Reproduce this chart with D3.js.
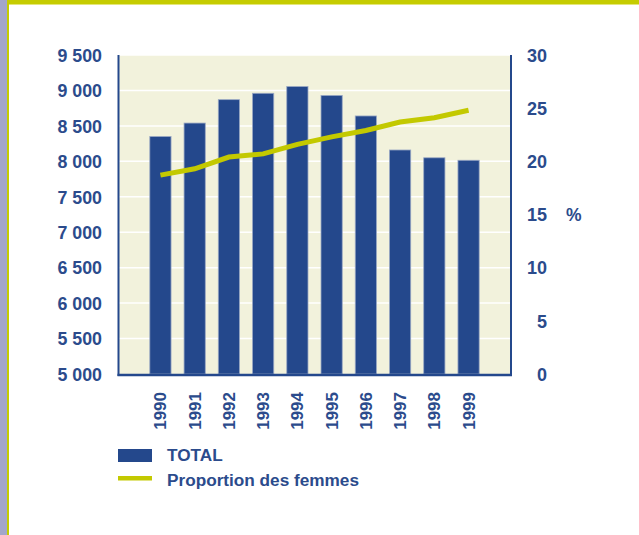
<!DOCTYPE html>
<html><head><meta charset="utf-8">
<script src="https://cdn.jsdelivr.net/npm/d3@7"></script>
<style>
html,body{margin:0;padding:0;background:#fff;}
svg{display:block;}
text{font-family:"Liberation Sans",Arial,Helvetica,sans-serif;font-weight:bold;fill:#2b4b8c;}
</style></head>
<body>
<script>
const years = ["1990","1991","1992","1993","1994","1995","1996","1997","1998","1999"];
const totals = [8350, 8540, 8870, 8960, 9055, 8930, 8640, 8160, 8050, 8015];
const womenShare = [18.7, 19.3, 20.4, 20.7, 21.6, 22.3, 22.9, 23.7, 24.1, 24.8];
const leftTicks = [5000, 5500, 6000, 6500, 7000, 7500, 8000, 8500, 9000, 9500];
const rightTicks = [0, 5, 10, 15, 20, 25, 30];
const legendLabels = ["TOTAL", "Proportion des femmes"];

const W = 639, H = 535;
const blue = "#24488c", green = "#c3c900";
const svg = d3.select("body").append("svg").attr("width", W).attr("height", H);

// page frame
svg.append("rect").attr("x",0).attr("y",0).attr("width",7).attr("height",H).attr("fill","#a3a6c9");
svg.append("rect").attr("x",7).attr("y",0).attr("width",2).attr("height",H).attr("fill","#c5cc00");
svg.append("rect").attr("x",9).attr("y",0).attr("width",W-9).attr("height",4).attr("fill","#c5cc00");
svg.append("rect").attr("x",9).attr("y",4).attr("width",W-9).attr("height",1).attr("fill","#e3e67a");

const L = 119, R = 510, T = 55, B = 374;
const x = d3.scaleBand().domain(years).range([L, R]).paddingInner(0.38).paddingOuter(0.9);
const y = d3.scaleLinear().domain([5000, 9500]).range([B, T]);
const y2 = d3.scaleLinear().domain([0, 30]).range([B, T]);

svg.append("rect").attr("x",L).attr("y",T).attr("width",R-L).attr("height",B-T).attr("fill","#f2f2dc");

// gridlines
svg.append("g").selectAll("line").data(leftTicks.slice(1)).join("line")
  .attr("x1",L).attr("x2",R).attr("y1",d=>y(d)).attr("y2",d=>y(d))
  .attr("stroke","#ffffff").attr("stroke-width",1.5);

// bars
svg.append("g").selectAll("rect").data(years).join("rect")
  .attr("x",d=>x(d)).attr("width",x.bandwidth())
  .attr("y",(d,i)=>y(totals[i])).attr("height",(d,i)=>B-y(totals[i]))
  .attr("fill",blue).attr("stroke","#9aa8c4").attr("stroke-width",0.8);

// line
const line = d3.line().x((d,i)=>x(years[i])+x.bandwidth()/2).y(d=>y2(d));
svg.append("path").datum(womenShare).attr("d",line)
  .attr("fill","none").attr("stroke",green).attr("stroke-width",5);

// axes lines
svg.append("line").attr("x1",L-0.5).attr("x2",L-0.5).attr("y1",T).attr("y2",B+2).attr("stroke",blue).attr("stroke-width",2);
svg.append("line").attr("x1",R+1).attr("x2",R+1).attr("y1",T).attr("y2",B+2).attr("stroke",blue).attr("stroke-width",2);
svg.append("line").attr("x1",L-1.5).attr("x2",R+2).attr("y1",B+1).attr("y2",B+1).attr("stroke",blue).attr("stroke-width",2.5);

// left axis labels
const fmt = v => { const s = String(v); return s.length > 3 ? s.slice(0, s.length-3) + " " + s.slice(-3) : s; };
const yAxisL = d3.axisLeft(y).tickValues(leftTicks).tickSize(0).tickPadding(0).tickFormat(fmt);
const gL = svg.append("g").attr("transform",`translate(102,0)`).call(yAxisL);
gL.select(".domain").remove();
gL.selectAll("text").attr("font-size",17.8).attr("fill","#2b4b8c").attr("font-family","Liberation Sans, Arial, sans-serif").attr("font-weight","bold").attr("dy","0.35em");

// right axis labels
const yAxisR = d3.axisLeft(y2).tickValues(rightTicks).tickSize(0).tickPadding(0);
const gR = svg.append("g").attr("transform",`translate(547,0)`).call(yAxisR);
gR.select(".domain").remove();
gR.selectAll("text").attr("font-size",18).attr("fill","#2b4b8c").attr("font-family","Liberation Sans, Arial, sans-serif").attr("font-weight","bold").attr("dy","0.35em");
svg.append("text").attr("x",566).attr("y",y2(15)).attr("dy","0.35em").attr("font-size",17.5).text("%");

// x axis labels
const xAxis = d3.axisBottom(x).tickSize(0).tickPadding(0);
const gX = svg.append("g").attr("transform",`translate(0,392)`).call(xAxis);
gX.select(".domain").remove();
gX.selectAll("text").attr("font-size",17).attr("fill","#2b4b8c").attr("font-family","Liberation Sans, Arial, sans-serif").attr("font-weight","bold")
  .attr("transform","rotate(-90)").attr("text-anchor","end").attr("x",0).attr("y",0).attr("dx",0).attr("dy","0.35em");

// legend
svg.append("rect").attr("x",118).attr("y",449).attr("width",34).attr("height",13).attr("fill",blue);
svg.append("rect").attr("x",118).attr("y",476).attr("width",34).attr("height",4.5).attr("fill",green);
svg.append("text").attr("x",167).attr("y",461).attr("font-size",17.2).text(legendLabels[0]);
svg.append("text").attr("x",167).attr("y",485.5).attr("font-size",17.2).text(legendLabels[1]);
</script>
</body></html>
